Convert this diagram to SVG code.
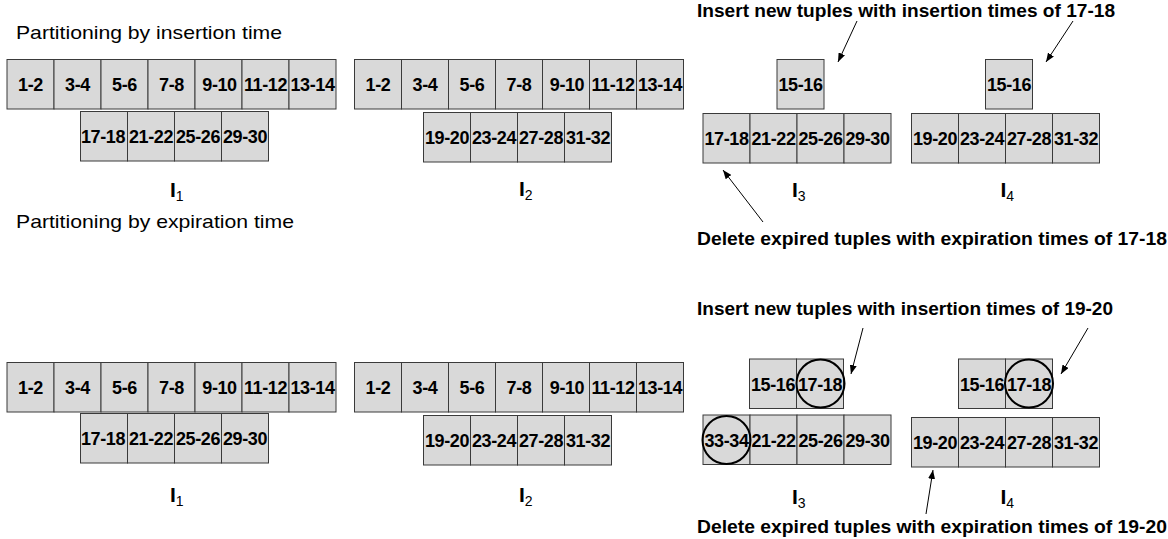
<svg xmlns="http://www.w3.org/2000/svg" width="1168" height="539" viewBox="0 0 1168 539">
  <style>
    .cell { fill: #d9d9d9; stroke: #3a3a3a; stroke-width: 1; }
    .num { font-family: "Liberation Sans", Arial, sans-serif; font-weight: bold; font-size: 18px; letter-spacing: -0.4px; fill: #000; text-anchor: middle; }
    .cap { font-family: "Liberation Sans", Arial, sans-serif; font-size: 18.5px; fill: #000; }
    .note { font-family: "Liberation Sans", Arial, sans-serif; font-weight: bold; font-size: 19px; fill: #000; }
    .idx { font-family: "Liberation Sans", Arial, sans-serif; font-weight: bold; font-size: 21px; fill: #000; }
    .sub { font-weight: normal; font-size: 14px; }
    .ring { fill: none; stroke: #000; stroke-width: 2; }
    .arrow { stroke: #000; stroke-width: 1; fill: none; marker-end: url(#head); }
  </style>
  <defs>
    <marker id="head" markerUnits="userSpaceOnUse" markerWidth="9" markerHeight="7" refX="9" refY="3.5" orient="auto">
      <path d="M0,0 L9,3.5 L0,7 z" fill="#000"/>
    </marker>
  </defs>

  <rect width="1168" height="539" fill="#fff"/>

  <!-- section captions -->
  <text class="cap" x="16" y="39" textLength="266" lengthAdjust="spacingAndGlyphs">Partitioning by insertion time</text>
  <text class="cap" x="16" y="228" textLength="278" lengthAdjust="spacingAndGlyphs">Partitioning by expiration time</text>

  <!-- ===== insertion-time partitioning ===== -->
  <g id="ins-I1">
    <rect class="cell" x="7" y="59.5" width="47" height="49.5"/><text class="num" x="30.5" y="91">1-2</text>
    <rect class="cell" x="54" y="59.5" width="47" height="49.5"/><text class="num" x="77.5" y="91">3-4</text>
    <rect class="cell" x="101" y="59.5" width="47" height="49.5"/><text class="num" x="124.5" y="91">5-6</text>
    <rect class="cell" x="148" y="59.5" width="47" height="49.5"/><text class="num" x="171.5" y="91">7-8</text>
    <rect class="cell" x="195" y="59.5" width="47" height="49.5"/><text class="num" x="219.5" y="91">9-10</text>
    <rect class="cell" x="242" y="59.5" width="47" height="49.5"/><text class="num" x="265.5" y="91">11-12</text>
    <rect class="cell" x="289" y="59.5" width="47" height="49.5"/><text class="num" x="312.5" y="91">13-14</text>
    <rect class="cell" x="80.5" y="111.5" width="47" height="49.5"/><text class="num" x="103" y="143">17-18</text>
    <rect class="cell" x="127.5" y="111.5" width="47" height="49.5"/><text class="num" x="151" y="143">21-22</text>
    <rect class="cell" x="174.5" y="111.5" width="47" height="49.5"/><text class="num" x="198" y="143">25-26</text>
    <rect class="cell" x="221.5" y="111.5" width="47" height="49.5"/><text class="num" x="245" y="143">29-30</text>
    <text class="idx" x="170" y="196.5">I<tspan class="sub" dy="4">1</tspan></text>
  </g>

  <g id="ins-I2">
    <rect class="cell" x="354.5" y="59.5" width="47" height="49.5"/><text class="num" x="378" y="91">1-2</text>
    <rect class="cell" x="401.5" y="59.5" width="47" height="49.5"/><text class="num" x="425" y="91">3-4</text>
    <rect class="cell" x="448.5" y="59.5" width="47" height="49.5"/><text class="num" x="472" y="91">5-6</text>
    <rect class="cell" x="495.5" y="59.5" width="47" height="49.5"/><text class="num" x="519" y="91">7-8</text>
    <rect class="cell" x="542.5" y="59.5" width="47" height="49.5"/><text class="num" x="567" y="91">9-10</text>
    <rect class="cell" x="589.5" y="59.5" width="47" height="49.5"/><text class="num" x="613" y="91">11-12</text>
    <rect class="cell" x="636.5" y="59.5" width="47" height="49.5"/><text class="num" x="660" y="91">13-14</text>
    <rect class="cell" x="423.5" y="112.5" width="47" height="49.5"/><text class="num" x="447" y="144">19-20</text>
    <rect class="cell" x="470.5" y="112.5" width="47" height="49.5"/><text class="num" x="494" y="144">23-24</text>
    <rect class="cell" x="517.5" y="112.5" width="47" height="49.5"/><text class="num" x="541" y="144">27-28</text>
    <rect class="cell" x="564.5" y="112.5" width="47" height="49.5"/><text class="num" x="588" y="144">31-32</text>
    <text class="idx" x="519" y="195.5">I<tspan class="sub" dy="4">2</tspan></text>
  </g>

  <g id="ins-I3">
    <rect class="cell" x="777" y="59.5" width="47" height="49.5"/><text class="num" x="800.5" y="91">15-16</text>
    <rect class="cell" x="703" y="113.5" width="47" height="49.5"/><text class="num" x="726.5" y="145">17-18</text>
    <rect class="cell" x="750" y="113.5" width="47" height="49.5"/><text class="num" x="773.5" y="145">21-22</text>
    <rect class="cell" x="797" y="113.5" width="47" height="49.5"/><text class="num" x="820.5" y="145">25-26</text>
    <rect class="cell" x="844" y="113.5" width="47" height="49.5"/><text class="num" x="867.5" y="145">29-30</text>
    <text class="idx" x="792" y="197">I<tspan class="sub" dy="4">3</tspan></text>
  </g>

  <g id="ins-I4">
    <rect class="cell" x="985.5" y="59.5" width="47" height="49.5"/><text class="num" x="1009" y="91">15-16</text>
    <rect class="cell" x="911.5" y="113.5" width="47" height="49.5"/><text class="num" x="935" y="145">19-20</text>
    <rect class="cell" x="958.5" y="113.5" width="47" height="49.5"/><text class="num" x="982" y="145">23-24</text>
    <rect class="cell" x="1005.5" y="113.5" width="47" height="49.5"/><text class="num" x="1029" y="145">27-28</text>
    <rect class="cell" x="1052.5" y="113.5" width="47" height="49.5"/><text class="num" x="1076" y="145">31-32</text>
    <text class="idx" x="1000.5" y="197">I<tspan class="sub" dy="4">4</tspan></text>
  </g>

  <g id="ins-notes">
    <text class="note" x="697" y="17" textLength="418" lengthAdjust="spacingAndGlyphs">Insert new tuples with insertion times of 17-18</text>
    <text class="note" x="697" y="245" textLength="470" lengthAdjust="spacingAndGlyphs">Delete expired tuples with expiration times of 17-18</text>
  </g>

  <!-- ===== expiration-time partitioning ===== -->
  <g id="exp-I1">
    <rect class="cell" x="7" y="362.5" width="47" height="49.5"/><text class="num" x="30.5" y="394">1-2</text>
    <rect class="cell" x="54" y="362.5" width="47" height="49.5"/><text class="num" x="77.5" y="394">3-4</text>
    <rect class="cell" x="101" y="362.5" width="47" height="49.5"/><text class="num" x="124.5" y="394">5-6</text>
    <rect class="cell" x="148" y="362.5" width="47" height="49.5"/><text class="num" x="171.5" y="394">7-8</text>
    <rect class="cell" x="195" y="362.5" width="47" height="49.5"/><text class="num" x="219.5" y="394">9-10</text>
    <rect class="cell" x="242" y="362.5" width="47" height="49.5"/><text class="num" x="265.5" y="394">11-12</text>
    <rect class="cell" x="289" y="362.5" width="47" height="49.5"/><text class="num" x="312.5" y="394">13-14</text>
    <rect class="cell" x="80.5" y="413.5" width="47" height="49.5"/><text class="num" x="103" y="445">17-18</text>
    <rect class="cell" x="127.5" y="413.5" width="47" height="49.5"/><text class="num" x="151" y="445">21-22</text>
    <rect class="cell" x="174.5" y="413.5" width="47" height="49.5"/><text class="num" x="198" y="445">25-26</text>
    <rect class="cell" x="221.5" y="413.5" width="47" height="49.5"/><text class="num" x="245" y="445">29-30</text>
    <text class="idx" x="170" y="502">I<tspan class="sub" dy="4">1</tspan></text>
  </g>

  <g id="exp-I2">
    <rect class="cell" x="354.5" y="362.5" width="47" height="49.5"/><text class="num" x="378" y="394">1-2</text>
    <rect class="cell" x="401.5" y="362.5" width="47" height="49.5"/><text class="num" x="425" y="394">3-4</text>
    <rect class="cell" x="448.5" y="362.5" width="47" height="49.5"/><text class="num" x="472" y="394">5-6</text>
    <rect class="cell" x="495.5" y="362.5" width="47" height="49.5"/><text class="num" x="519" y="394">7-8</text>
    <rect class="cell" x="542.5" y="362.5" width="47" height="49.5"/><text class="num" x="567" y="394">9-10</text>
    <rect class="cell" x="589.5" y="362.5" width="47" height="49.5"/><text class="num" x="613" y="394">11-12</text>
    <rect class="cell" x="636.5" y="362.5" width="47" height="49.5"/><text class="num" x="660" y="394">13-14</text>
    <rect class="cell" x="423.5" y="415.5" width="47" height="49.5"/><text class="num" x="447" y="447">19-20</text>
    <rect class="cell" x="470.5" y="415.5" width="47" height="49.5"/><text class="num" x="494" y="447">23-24</text>
    <rect class="cell" x="517.5" y="415.5" width="47" height="49.5"/><text class="num" x="541" y="447">27-28</text>
    <rect class="cell" x="564.5" y="415.5" width="47" height="49.5"/><text class="num" x="588" y="447">31-32</text>
    <text class="idx" x="519" y="501.5">I<tspan class="sub" dy="4">2</tspan></text>
  </g>

  <g id="exp-I3">
    <rect class="cell" x="749.5" y="359" width="47" height="49.5"/><text class="num" x="773" y="390.5">15-16</text>
    <rect class="cell" x="796.5" y="359" width="47" height="49.5"/><text class="num" x="820" y="390.5">17-18</text>
    <rect class="cell" x="703" y="415" width="47" height="49.5"/><text class="num" x="726.5" y="446.5">33-34</text>
    <rect class="cell" x="750" y="415" width="47" height="49.5"/><text class="num" x="773.5" y="446.5">21-22</text>
    <rect class="cell" x="797" y="415" width="47" height="49.5"/><text class="num" x="820.5" y="446.5">25-26</text>
    <rect class="cell" x="844" y="415" width="47" height="49.5"/><text class="num" x="867.5" y="446.5">29-30</text>
    <circle class="ring" cx="820.5" cy="383.5" r="24"/>
    <circle class="ring" cx="726.5" cy="440" r="24"/>
    <text class="idx" x="792" y="503.5">I<tspan class="sub" dy="4">3</tspan></text>
  </g>

  <g id="exp-I4">
    <rect class="cell" x="958.5" y="359" width="47" height="49.5"/><text class="num" x="982" y="390.5">15-16</text>
    <rect class="cell" x="1005.5" y="359" width="47" height="49.5"/><text class="num" x="1029" y="390.5">17-18</text>
    <rect class="cell" x="911.5" y="417.5" width="47" height="49.5"/><text class="num" x="935" y="449">19-20</text>
    <rect class="cell" x="958.5" y="417.5" width="47" height="49.5"/><text class="num" x="982" y="449">23-24</text>
    <rect class="cell" x="1005.5" y="417.5" width="47" height="49.5"/><text class="num" x="1029" y="449">27-28</text>
    <rect class="cell" x="1052.5" y="417.5" width="47" height="49.5"/><text class="num" x="1076" y="449">31-32</text>
    <circle class="ring" cx="1029" cy="383.5" r="24"/>
    <text class="idx" x="1000.5" y="503.5">I<tspan class="sub" dy="4">4</tspan></text>
  </g>

  <g id="exp-notes">
    <text class="note" x="697" y="315" textLength="416" lengthAdjust="spacingAndGlyphs">Insert new tuples with insertion times of 19-20</text>
    <text class="note" x="697" y="533" textLength="470" lengthAdjust="spacingAndGlyphs">Delete expired tuples with expiration times of 19-20</text>
  </g>

  <!-- connectors -->
  <g id="connectors">
    <line class="arrow" x1="857" y1="21" x2="838" y2="62"/>
    <line class="arrow" x1="1073" y1="21" x2="1046" y2="62"/>
    <line class="arrow" x1="763" y1="222" x2="723" y2="170"/>
    <line class="arrow" x1="863" y1="328" x2="851" y2="374"/>
    <line class="arrow" x1="1088" y1="328" x2="1061" y2="374"/>
    <line class="arrow" x1="926" y1="514" x2="933" y2="470"/>
  </g>
</svg>
